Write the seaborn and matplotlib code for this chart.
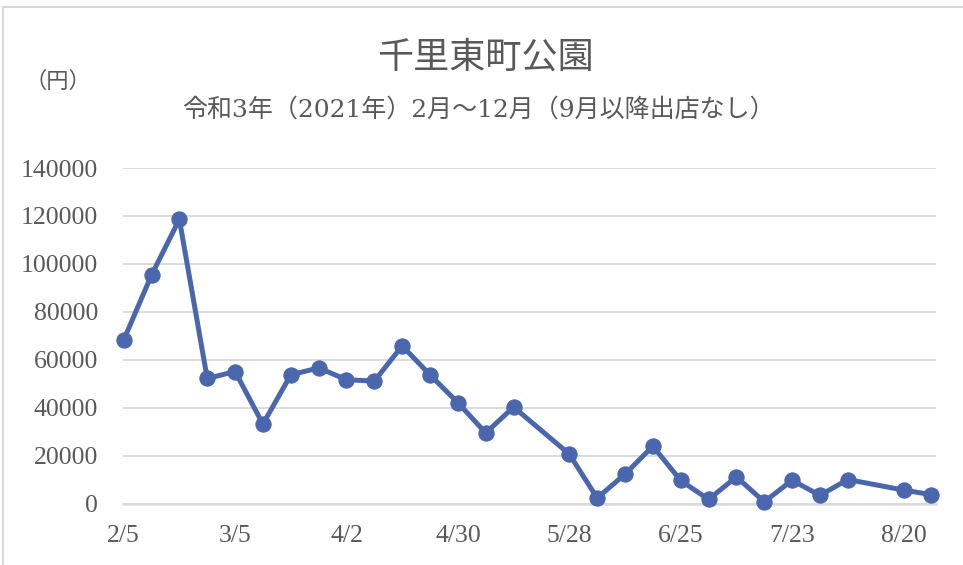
import pandas as pd
import matplotlib
matplotlib.use('Agg')
import matplotlib.pyplot as plt
import matplotlib.patches as patches
import seaborn as sns

# weekly sales, missing weeks (5/21, 8/13) simply left out
dates = ['2021-02-05', '2021-02-12', '2021-02-19', '2021-02-26', '2021-03-05',
         '2021-03-12', '2021-03-19', '2021-03-26', '2021-04-02', '2021-04-09',
         '2021-04-16', '2021-04-23', '2021-04-30', '2021-05-07', '2021-05-14',
         '2021-05-28', '2021-06-04', '2021-06-11', '2021-06-18', '2021-06-25',
         '2021-07-02', '2021-07-09', '2021-07-16', '2021-07-23', '2021-07-30',
         '2021-08-06', '2021-08-20', '2021-08-27']
sales = [68300, 95400, 118600, 52300, 55200,
         33300, 53800, 56700, 51800, 51200,
         65900, 53800, 42200, 29600, 40400,
         20800, 2500, 12400, 24100, 9800,
         1900, 11300, 900, 9900, 3600,
         10200, 5800, 3900]
tick_dates = ['2021-02-05', '2021-03-05', '2021-04-02', '2021-04-30',
              '2021-05-28', '2021-06-25', '2021-07-23', '2021-08-20']
y_ticks = [0, 20000, 40000, 60000, 80000, 100000, 120000, 140000]

title = '千里東町公園'
subtitle = '令和3年（2021年）2月～12月（9月以降出店なし）'
unit = '（円）'

df = pd.DataFrame({'date': pd.to_datetime(dates), 'sales': sales})

sns.set_style('white')
fonts = ['Liberation Serif', 'Noto Sans CJK JP', 'DejaVu Sans']
plt.rcParams['font.family'] = fonts
text_color = '#595959'
grid_color = '#D9D9D9'
line_color = '#4A67AE'

fig = plt.figure(figsize=(9.63, 5.65), dpi=100)
ax = fig.add_axes([123 / 963, 1 - 504 / 565, (936 - 123) / 963, (504 - 168) / 565])

sns.lineplot(data=df, x='date', y='sales', ax=ax, color=line_color,
             linewidth=3.6, marker='o', markersize=11,
             markeredgecolor=line_color, markerfacecolor=line_color,
             zorder=3, clip_on=False)

ax.set_ylim(0, 140000)
ax.set_xlim(pd.Timestamp('2021-02-04 20:00'), pd.Timestamp('2021-08-28 04:00'))
ax.set_yticks(y_ticks)
ax.set_yticklabels([str(v) for v in y_ticks])
xt = pd.to_datetime(tick_dates)
ax.set_xticks(xt)
ax.set_xticklabels([f'{d.month}/{d.day}' for d in xt])

ax.grid(axis='y', color=grid_color, linewidth=1.3)
ax.grid(axis='x', visible=False)
for s in ['top', 'right', 'left']:
    ax.spines[s].set_visible(False)
ax.spines['bottom'].set_color(grid_color)
ax.spines['bottom'].set_linewidth(1.8)
ax.spines['bottom'].set_zorder(2)

ax.tick_params(axis='y', length=0, pad=18, labelsize=18.5, labelcolor=text_color)
ax.tick_params(axis='x', length=5, width=1.3, color=grid_color, direction='out',
               pad=10, labelsize=18.5, labelcolor=text_color)
ax.set_xlabel('')
ax.set_ylabel('')

fig.text(485 / 963, 1 - 58 / 565, title, ha='center', va='center',
         fontsize=26, color=text_color, family=['Noto Sans CJK JP'])
fig.text(478 / 963, 1 - 110 / 565, subtitle, ha='center', va='center',
         fontsize=18, color=text_color,
         family=['DejaVu Serif', 'Noto Sans CJK JP'])
fig.text(58 / 963, 1 - 82 / 565, unit, ha='center', va='center',
         fontsize=16, color=text_color)

# outer chart border (only top and left edges visible in the crop)
fig.patches.append(patches.Rectangle((3 / 963, -0.1), 1.2, 1.1 - 7 / 565,
                                     transform=fig.transFigure, fill=False,
                                     edgecolor=grid_color, linewidth=1.5))

fig.savefig('out.png', dpi=100, facecolor='white')
